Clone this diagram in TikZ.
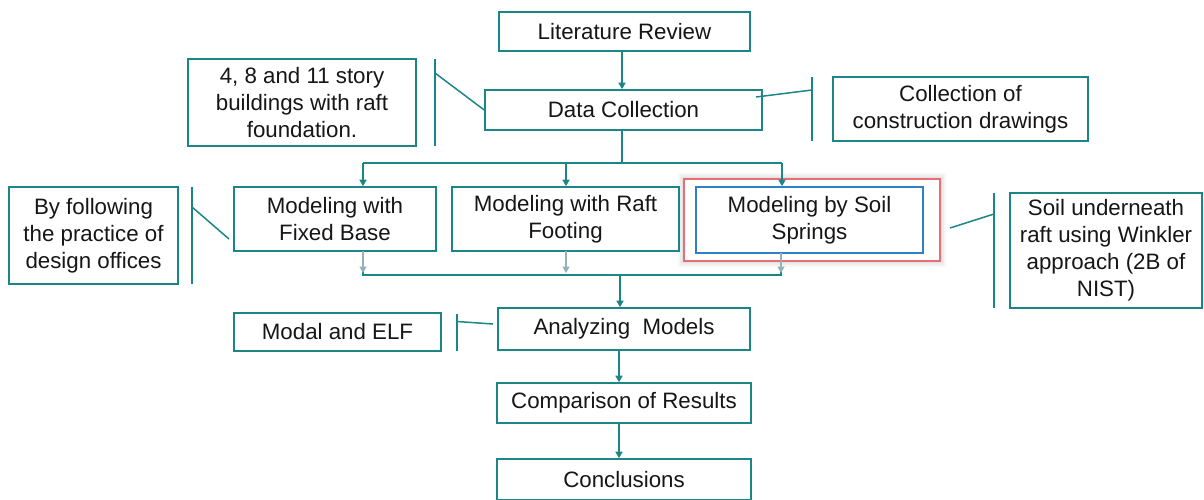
\documentclass[tikz,border=0pt]{standalone}
\usepackage{fontspec}
\setmainfont{Liberation Sans}
\usetikzlibrary{arrows.meta}
\definecolor{tealc}{RGB}{28,134,134}
\definecolor{txt}{RGB}{22,22,22}
\definecolor{garrc}{RGB}{145,178,184}
\definecolor{bluec}{RGB}{48,128,200}
\definecolor{redc}{RGB}{232,110,115}
\tikzset{
  box/.style={draw=tealc, line width=1.6pt, fill=white, text=txt, align=center, inner sep=0pt,
    font=\fontsize{22.3}{27}\selectfont},
  conn/.style={draw=tealc, line width=1.5pt},
  arr/.style={draw=tealc, line width=1.5pt, -{Triangle[width=7pt,length=6.5pt]}},
  garr/.style={draw=garrc, line width=1.5pt, -{Triangle[width=7pt,length=6.5pt]}},
}
\begin{document}
\begin{tikzpicture}[x=1pt,y=-1pt]
\useasboundingbox (0,0) rectangle (1204,499);
\clip (0,0) rectangle (1204,499);
% glow around highlighted box
\foreach \w/\o in {12/0.05,8/0.07,4/0.08}{
  \draw[black!60, opacity=\o, line width=\w pt] (684,179) rectangle (940,261);
}
\node[box, minimum width=251, minimum height=39] (lit) at (624.5,31.5) {Literature Review};
\node[box, minimum width=277, minimum height=40] (data) at (623.5,110) {Data Collection};
\node[box, minimum width=228, minimum height=87] (story) at (302,102.5) {4, 8 and 11 story\\buildings with raft\\foundation.};
\node[box, minimum width=255, minimum height=64] (coll) at (960.5,109) {Collection of\\construction drawings};
\node[box, minimum width=202, minimum height=64] (fixed) at (335,219) {Modeling with\\Fixed Base};
\node[box, minimum width=227, minimum height=64] (raft) at (565.5,219) {Modeling with Raft\\Footing};
\node[draw=redc, line width=1.5pt, fill=white, minimum width=256, minimum height=82, inner sep=0pt] (hl) at (812,220) {};
\node[box, draw=bluec, minimum width=227, minimum height=66] (spring) at (809.5,220) {Modeling by Soil\\Springs};
\node[box, minimum width=169, minimum height=97] (follow) at (93.5,235.5) {By following\\the practice of\\design offices};
\node[box, minimum width=192, minimum height=115] (soil) at (1106,250.5) {Soil underneath\\raft using Winkler\\approach (2B of\\NIST)};
\node[box, minimum width=207, minimum height=38] (modal) at (337.5,332) {Modal and ELF};
\node[box, minimum width=252, minimum height=42] (anal) at (624,329) {Analyzing\ \ Models};
\node[box, minimum width=254, minimum height=40] (comp) at (624,403) {Comparison of Results};
\node[box, minimum width=254, minimum height=41] (concl) at (624,479.5) {Conclusions};

% annotation brackets
\coordinate (b1t) at (435,59); \coordinate (b1b) at (435,146); \coordinate (b1m) at (435,73);
\draw[conn] (b1t) -- (b1b);
\draw[conn] (b1m) -- (data.west);
\coordinate (b2t) at (812,77); \coordinate (b2b) at (812,141); \coordinate (b2m) at (812,90);
\coordinate (b2e) at (756,97);
\draw[conn] (b2t) -- (b2b);
\draw[conn] (b2m) -- (b2e);
\coordinate (b3t) at (192,187); \coordinate (b3b) at (192,284); \coordinate (b3m) at (192,207);
\coordinate (b3e) at (229,239);
\draw[conn] (b3t) -- (b3b);
\draw[conn] (b3m) -- (b3e);
\coordinate (b4t) at (994,193); \coordinate (b4b) at (994,308); \coordinate (b4m) at (994,214);
\coordinate (b4e) at (950,228);
\draw[conn] (b4t) -- (b4b);
\draw[conn] (b4m) -- (b4e);
\coordinate (b5t) at (457,314); \coordinate (b5b) at (457,351); \coordinate (b5m) at (457,321.5);
\coordinate (b5e) at (493,324);
\draw[conn] (b5t) -- (b5b);
\draw[conn] (b5m) -- (b5e);

% main flow
\coordinate (lo) at (622,51);
\draw[arr] (lo) -- (lo|-data.north);
\coordinate (d0) at (622,130);
\coordinate (s1) at (363,163); \coordinate (s2) at (566,163); \coordinate (s3) at (782,163);
\draw[conn] (d0) -- (d0|-s1);
\draw[conn] (s1) -- (s3);
\draw[arr] (s1) -- (s1|-fixed.north);
\draw[arr] (s2) -- (s2|-raft.north);
\draw[arr] (s3) -- (s3|-spring.north);

\coordinate (g1) at (363,251); \coordinate (g2) at (566,251); \coordinate (g3) at (781,253);
\coordinate (h1) at (363,275); \coordinate (h3) at (781,275); \coordinate (hm) at (620,275);
\draw[conn] (363,270) -- (h1) -- (h3) -- (781,270);
\draw[garr] (g1) -- (363,273);
\draw[garr] (g2) -- (566,273);
\draw[garr] (g3) -- (781,273);
\draw[arr] (hm) -- (hm|-anal.north);
\coordinate (a0) at (619,350);
\draw[arr] (a0) -- (a0|-comp.north);
\coordinate (c0) at (619,423);
\draw[arr] (c0) -- (c0|-concl.north);
\end{tikzpicture}
\end{document}
